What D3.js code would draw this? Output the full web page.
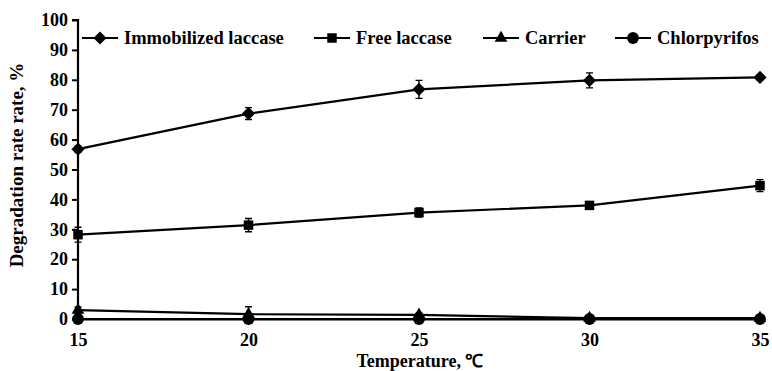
<!DOCTYPE html>
<html>
<head>
<meta charset="utf-8">
<script src="https://cdn.jsdelivr.net/npm/d3@7"></script>
<style>
  body { margin: 0; background: #fff; }
  svg { display: block; font-family: "Liberation Serif", "Times New Roman", serif; font-weight: bold; }
</style>
</head>
<body>
<div id="chart"></div>
<script>
const temps = [15, 20, 25, 30, 35];
const seriesNames = ["Immobilized laccase", "Free laccase", "Carrier", "Chlorpyrifos"];
const immobilized = [56.8, 68.7, 76.8, 79.8, 80.8];
const immobilizedErr = [1.0, 2.0, 3.0, 2.5, 0.8];
const freeLaccase = [28.2, 31.4, 35.6, 38.0, 44.6];
const freeErr = [2.5, 2.2, 1.5, 1.0, 2.0];
const carrier = [3.0, 1.6, 1.4, 0.3, 0.3];
const carrierErr = [1.0, 2.5, 0.5, 0.3, 0.3];
const chlorpyrifos = [0, 0, 0, 0, 0];
const chlorErr = [0, 0, 0, 0, 0];
const yTicks = [0, 10, 20, 30, 40, 50, 60, 70, 80, 90, 100];

const width = 772;
const height = 371;
const pl = 78;
const pr = 12;
const pt = 20;
const pb = 52;
const font = "'Liberation Serif', 'Times New Roman', serif";

const series = [
    {name: seriesNames[0], values: immobilized, err: immobilizedErr, symbol: d3.symbolDiamond2, size: 110},
    {name: seriesNames[1], values: freeLaccase, err: freeErr, symbol: d3.symbolSquare, size: 90},
    {name: seriesNames[2], values: carrier, err: carrierErr, symbol: d3.symbolTriangle, size: 70},
    {name: seriesNames[3], values: chlorpyrifos, err: chlorErr, symbol: d3.symbolCircle, size: 110},
];

const xScale = d3.scaleLinear().domain([15, 35]).range([pl, width - pr]);
const yScale = d3.scaleLinear().domain([0, 100]).range([height - pb, pt]);

const svg = d3.select("#chart").append("svg")
    .attr("width", width)
    .attr("height", height);

// y axis
const yAxis = svg.append("g")
    .attr("transform", `translate(${pl},0)`)
    .call(d3.axisLeft(yScale).tickValues(yTicks).tickSize(6).tickPadding(4))
    .attr("font-family", font)
    .attr("font-size", 18)
    .attr("font-weight", "bold");
yAxis.select(".domain").attr("stroke", "#000").attr("stroke-width", 2.2)
    .attr("d", `M-6,${yScale(100)}H0V${yScale(0)}`);
yAxis.selectAll(".tick line").attr("stroke-width", 2);
yAxis.selectAll(".tick text").attr("fill", "#000");

// x axis (line plus labels, no ticks)
const xAxis = svg.append("g")
    .attr("transform", `translate(0,${yScale(0)})`)
    .call(d3.axisBottom(xScale).tickValues(temps).tickSize(0).tickPadding(14))
    .attr("font-family", font)
    .attr("font-size", 18)
    .attr("font-weight", "bold");
xAxis.select(".domain").attr("stroke", "#000").attr("stroke-width", 2.2);
xAxis.selectAll(".tick text").attr("fill", "#000");

const line = d3.line()
    .x((d, i) => xScale(temps[i]))
    .y(d => yScale(d));

const plot = svg.append("g");

series.forEach(s => {
    plot.append("path")
        .attr("d", line(s.values))
        .attr("fill", "none")
        .attr("stroke", "#000")
        .attr("stroke-width", 2.2);

    const g = plot.append("g");
    s.values.forEach((v, i) => {
        const e = s.err[i];
        if (e > 0) {
            const x = xScale(temps[i]);
            g.append("path")
                .attr("d", `M${x},${yScale(v - e)}V${yScale(v + e)}M${x - 3.5},${yScale(v + e)}H${x + 3.5}M${x - 3.5},${yScale(v - e)}H${x + 3.5}`)
                .attr("stroke", "#000")
                .attr("stroke-width", 1.4)
                .attr("fill", "none");
        }
    });
    g.selectAll("path.marker")
        .data(s.values)
        .enter()
        .append("path")
        .attr("class", "marker")
        .attr("d", d3.symbol().type(s.symbol).size(s.size))
        .attr("transform", (d, i) => `translate(${xScale(temps[i])},${yScale(d)})`)
        .attr("fill", "#000");
});

// legend
const legendX = [82, 314, 483, 615];
const legend = svg.append("g").attr("transform", "translate(0,38)");
series.forEach((s, i) => {
    const item = legend.append("g").attr("transform", `translate(${legendX[i]},0)`);
    item.append("line")
        .attr("x1", 0).attr("x2", 36)
        .attr("stroke", "#000").attr("stroke-width", 2.2);
    item.append("path")
        .attr("d", d3.symbol().type(s.symbol).size(s.size))
        .attr("transform", "translate(18,0)")
        .attr("fill", "#000");
    item.append("text")
        .attr("x", 42)
        .attr("dy", "0.33em")
        .style("font-size", "18.5px")
        .text(s.name);
});

// axis titles
svg.append("text")
    .attr("x", (xScale(15) + xScale(35)) / 2 + 1)
    .attr("y", height - 4)
    .attr("text-anchor", "middle")
    .style("font-size", "18px")
    .text("Temperature, \u2103");

svg.append("text")
    .attr("transform", `translate(23,165) rotate(-90)`)
    .attr("text-anchor", "middle")
    .style("font-size", "19px")
    .text("Degradation rate rate, %");
</script>
</body>
</html>
